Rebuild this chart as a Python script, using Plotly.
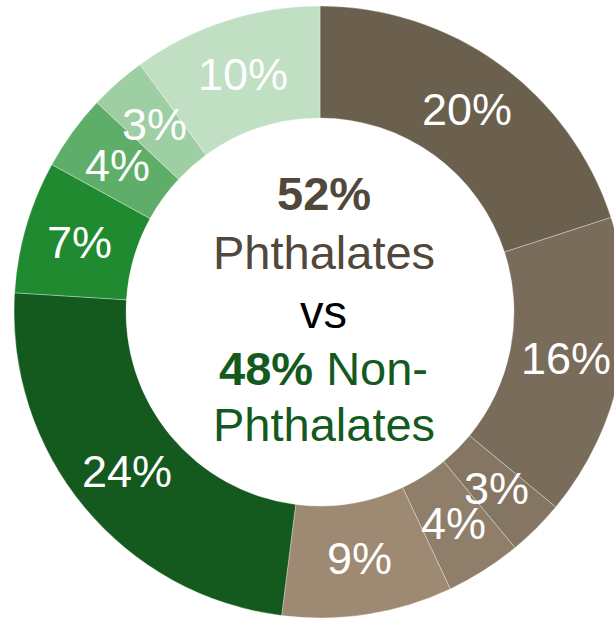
import numpy as np
import plotly.graph_objects as go

# ---- data ----
categories = ["Phthalate 1", "Phthalate 2", "Phthalate 3", "Phthalate 4", "Phthalate 5",
              "Non-Phthalate 1", "Non-Phthalate 2", "Non-Phthalate 3", "Non-Phthalate 4", "Non-Phthalate 5"]
shares = [20, 16, 3, 4, 9, 24, 7, 4, 3, 10]
slice_colors = ["#6B5F4E", "#7A6C5A", "#857663", "#8F7F6A", "#9E8A72",
                "#145A1F", "#1F8A30", "#5EAE6A", "#9ECFA3", "#C0DFC3"]
phthalate_total = 52
non_phthalate_total = 48

hole = 0.634
label_font = "Liberation Sans, Arial, sans-serif"

fig = go.Figure()

fig.add_trace(go.Pie(
    labels=categories, values=shares, sort=False, direction="clockwise", rotation=0,
    hole=hole, textinfo="none", showlegend=False, hoverinfo="label+percent",
    marker=dict(colors=slice_colors, line=dict(color="rgba(255,255,255,0.45)", width=0.7)),
    domain=dict(x=[0, 1], y=[0, 1]),
))

# slice label positions: mid-angle of each slice, middle of the ring
vals = np.array(shares, dtype=float)
mid_frac = (np.cumsum(vals) - vals / 2) / vals.sum()
theta = mid_frac * 2 * np.pi
r_mid = (1 + hole) / 2
lx = r_mid * np.sin(theta)
ly = r_mid * np.cos(theta)

fig.add_trace(go.Scatter(x=lx, y=ly, mode="markers", marker=dict(opacity=0),
                         hoverinfo="skip", showlegend=False))

annotations = []
for x, y, v in zip(lx, ly, shares):
    annotations.append(dict(x=x, y=y, xref="x", yref="y", text=f"{v}%", showarrow=False,
                            xanchor="center", yanchor="middle",
                            font=dict(family=label_font, size=45, color="white")))

brown = "#51473A"
green = "#145A1F"
cx = 0.012
center_lines = [
    (0.386, f"<b>{phthalate_total}%</b>", brown),
    (0.196, "Phthalates", brown),
    (0.003, "vs", "#000000"),
    (-0.183, f"<b>{non_phthalate_total}%</b> Non-", green),
    (-0.366, "Phthalates", green),
]
for y, t, c in center_lines:
    annotations.append(dict(x=cx, y=y, xref="x", yref="y", text=t, showarrow=False,
                            xanchor="center", yanchor="middle",
                            font=dict(family=label_font, size=47, color=c)))

fig.update_layout(
    width=640, height=620,
    margin=dict(l=14, r=14, t=6, b=2),
    paper_bgcolor="white", plot_bgcolor="rgba(0,0,0,0)",
    xaxis=dict(range=[-1, 1], visible=False, fixedrange=True),
    yaxis=dict(range=[-1, 1], visible=False, fixedrange=True),
    annotations=annotations,
    showlegend=False,
)

fig.write_html("out.html", config={"displayModeBar": False},
               post_script="document.body.style.margin='0';"
                           "document.documentElement.style.overflow='hidden';"
                           "document.body.style.overflow='hidden';")
